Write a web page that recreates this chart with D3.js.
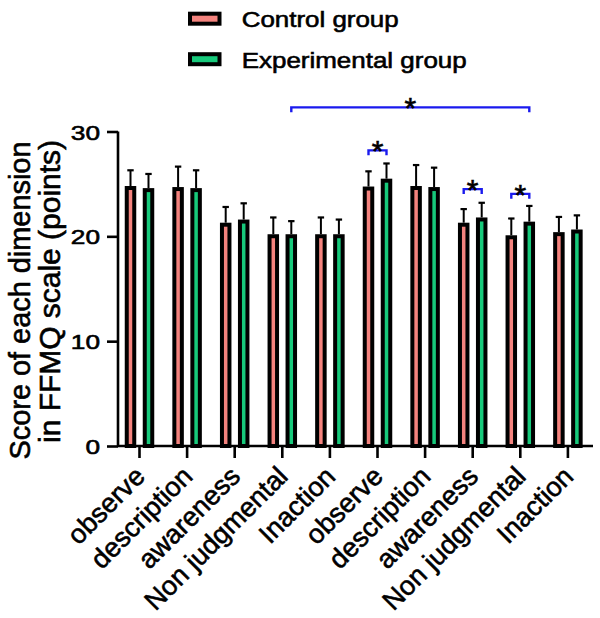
<!DOCTYPE html>
<html><head><meta charset="utf-8">
<script src="https://cdn.jsdelivr.net/npm/d3@7"></script>
<style>
html,body{margin:0;padding:0;background:#fff;}
svg{display:block;font-family:"Liberation Sans",Arial,sans-serif;}
svg text{stroke:#000;stroke-width:0.6px;fill:#000;}
</style></head>
<body>
<svg id="chart" width="600" height="618"></svg>
<script>
// ---- data ----
const categories = ["observe","description","awareness","Non judgmental","Inaction",
                    "observe","description","awareness","Non judgmental","Inaction"];
const seriesNames = ["Control group","Experimental group"];
const controlMeans = [24.8, 24.7, 21.3, 20.2, 20.2, 24.75, 24.8, 21.3, 20.1, 20.4];
const controlSD    = [1.5, 1.95, 1.5, 1.6, 1.6, 1.45, 2.0, 1.3, 1.6, 1.45];
const expMeans     = [24.6, 24.6, 21.6, 20.2, 20.2, 25.5, 24.7, 21.8, 21.4, 20.65];
const expSD        = [1.35, 1.7, 1.55, 1.25, 1.4, 1.45, 1.85, 1.4, 1.5, 1.35];
const yTicks = [0, 10, 20, 30];
// significance comparisons: [category index, series] from -> to, at bracket level (y units)
const sigFrom  = [[3,1],[5,0],[7,0],[8,0]];
const sigTo    = [[8,1],[5,1],[7,1],[8,1]];
const sigLevel = [32.3, 28.2, 24.5, 24.05];
const sigLabel = ["*","*","*","*"];

// ---- layout ----
const colors = ["#f4837e", "#17c97b"];
const svg = d3.select("#chart");
const x = d3.scaleBand().domain(d3.range(categories.length)).range([115.7, 591.7]).padding(0);
const y = d3.scaleLinear().domain([0, 30]).range([446, 131.5]);
const off = [-9, 9];
const cx = (i, s) => x(i) + x.bandwidth() / 2 + off[s];

// legend
const leg = svg.append("g");
seriesNames.forEach((name, s) => {
  const yy = [11.7, 52.2][s];
  leg.append("rect").attr("x", 190).attr("y", yy + 2).attr("width", 29.5).attr("height", 10)
    .attr("fill", colors[s]).attr("stroke", "#000").attr("stroke-width", 4);
  leg.append("text").attr("x", 241.7).attr("y", [26.8, 67.6][s])
    .attr("font-size", 22.5).attr("textLength", [157, 225][s]).attr("lengthAdjust", "spacingAndGlyphs")
    .text(name);
});

// y axis
const yAxis = svg.append("g").attr("transform", "translate(118,0)")
  .call(d3.axisLeft(y).tickValues(yTicks).tickSize(11).tickSizeOuter(0));
yAxis.select(".domain").attr("stroke-width", 2.6).attr("d", `M0,${y(30)}V${y(0)}`);
yAxis.selectAll(".tick line").attr("stroke-width", 2.6);
yAxis.selectAll(".tick text").attr("font-size", 21).attr("x", 0).attr("dy", "0.36em")
  .attr("transform", "translate(-18,0) scale(1.25,1)")
  .attr("font-family", "Liberation Sans, Arial, sans-serif");

// x axis
const xAxis = svg.append("g").attr("transform", "translate(0,446)")
  .call(d3.axisBottom(x).tickFormat(i => categories[i]).tickSize(12).tickSizeOuter(0));
xAxis.select(".domain").attr("stroke-width", 2.6).attr("d", "M118,0H593");
xAxis.selectAll(".tick line").attr("stroke-width", 2.6);
xAxis.selectAll(".tick text").attr("font-size", 27).attr("y", null).attr("dy", null)
  .attr("text-anchor", "end")
  .attr("font-family", "Liberation Sans, Arial, sans-serif")
  .attr("transform", "translate(7,32) rotate(-45)");

// y title
const titleLines = ["Score of each dimension", "in FFMQ scale (points)"];
const tPos = [[29.5, 459.5, 318], [60, 443, 303]];
titleLines.forEach((t, k) => {
  svg.append("text").attr("transform", `translate(${tPos[k][0]},${tPos[k][1]}) rotate(-90)`)
    .attr("font-size", 29).attr("textLength", tPos[k][2]).attr("lengthAdjust", "spacingAndGlyphs")
    .text(t);
});

// bars
const series = [[controlMeans, controlSD], [expMeans, expSD]];
const gBars = svg.append("g");
series.forEach(([means, sds], s) => {
  means.forEach((m, i) => {
    const c = cx(i, s);
    gBars.append("line").attr("x1", c).attr("x2", c).attr("y1", y(m)).attr("y2", y(m + sds[i]))
      .attr("stroke", "#000").attr("stroke-width", 2);
    gBars.append("line").attr("x1", c - 3.2).attr("x2", c + 3.2).attr("y1", y(m + sds[i])).attr("y2", y(m + sds[i]))
      .attr("stroke", "#000").attr("stroke-width", 2.2);
    gBars.append("rect").attr("x", c - 3.75).attr("width", 7.5)
      .attr("y", y(m) + 2).attr("height", y(0) - y(m) - 2)
      .attr("fill", colors[s]).attr("stroke", "#000").attr("stroke-width", 4);
  });
});

// significance brackets
const blue = "#1a1aee";
sigFrom.forEach((f, k) => {
  const x1 = cx(f[0], f[1]), x2 = cx(sigTo[k][0], sigTo[k][1]);
  const yy = y(sigLevel[k]);
  svg.append("path").attr("d", `M${x1},${yy + 4.8}V${yy}H${x2}V${yy + 4.8}`)
    .attr("fill", "none").attr("stroke", blue).attr("stroke-width", 2.4);
  svg.append("text").attr("x", (x1 + x2) / 2).attr("y", yy + 11).attr("text-anchor", "middle")
    .attr("font-size", 30).text(sigLabel[k]);
});
</script>
</body></html>
